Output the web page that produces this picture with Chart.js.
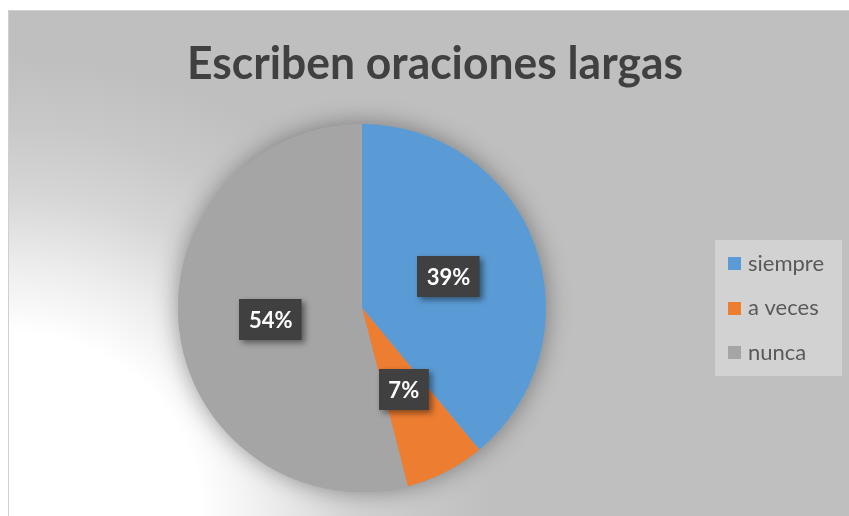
<!DOCTYPE html>
<html>
<head>
<meta charset="utf-8">
<script src="https://cdn.jsdelivr.net/npm/chart.js@4/dist/chart.umd.min.js"></script>
<style>
  html, body { margin: 0; padding: 0; background: #ffffff; }
  #wrap { width: 849px; height: 516px; position: relative; }
</style>
</head>
<body>
<div id="wrap"><canvas id="c" width="849" height="516"></canvas></div>
<script>
const titleText = "Escriben oraciones largas";
const categories = ["siempre", "a veces", "nunca"];
const percentages = [39, 7, 54];
const sliceColors = ["#5b9bd5", "#ed7d31", "#a5a5a5"];

const backgroundPlugin = {
  id: "bg",
  beforeDraw(chart) {
    const ctx = chart.ctx;
    const W = chart.width, H = chart.height;
    ctx.save();
    ctx.fillStyle = "#ffffff";
    ctx.fillRect(0, 0, W, H);
    ctx.save();
    ctx.beginPath();
    ctx.rect(8, 10, W - 8, H - 10);
    ctx.clip();
    ctx.translate(8, 516);
    ctx.scale(1.05, 1);
    const g = ctx.createRadialGradient(0, 0, 0, 0, 0, 460);
    g.addColorStop(0, "#ffffff");
    g.addColorStop(0.4, "#ffffff");
    g.addColorStop(0.55, "#ececec");
    g.addColorStop(0.7, "#d6d6d6");
    g.addColorStop(0.85, "#c8c8c8");
    g.addColorStop(1, "#bfbfbf");
    ctx.fillStyle = g;
    ctx.fillRect(-20, -600, 1000, 700);
    ctx.restore();
    ctx.strokeStyle = "#d0d0d0";
    ctx.lineWidth = 1;
    ctx.beginPath();
    ctx.moveTo(8.5, H);
    ctx.lineTo(8.5, 10.5);
    ctx.lineTo(W, 10.5);
    ctx.stroke();
    // title
    ctx.fillStyle = "#404040";
    ctx.font = "bold 45px Lato";
    ctx.textAlign = "center";
    ctx.textBaseline = "alphabetic";
    ctx.fillText(titleText, 435, 79, 496);
    ctx.restore();
  },
  beforeDatasetsDraw(chart) {
    const meta = chart.getDatasetMeta(0);
    const arc = meta.data[0];
    if (!arc) return;
    const ctx = chart.ctx;
    ctx.save();
    ctx.shadowColor = "rgba(0,0,0,0.38)";
    ctx.shadowBlur = 24;
    ctx.shadowOffsetX = 0;
    ctx.shadowOffsetY = 0;
    ctx.fillStyle = "#a5a5a5";
    ctx.beginPath();
    ctx.arc(arc.x, arc.y, arc.outerRadius, 0, Math.PI * 2);
    ctx.fill();
    ctx.restore();
  },
  afterDatasetsDraw(chart) {
    const ctx = chart.ctx;
    const meta = chart.getDatasetMeta(0);
    const values = chart.data.datasets[0].data;
    ctx.save();
    ctx.font = "bold 22px Lato";
    ctx.textAlign = "center";
    ctx.textBaseline = "alphabetic";
    meta.data.forEach((el, i) => {
      const p = el.tooltipPosition();
      const txt = values[i] + "%";
      const w = ctx.measureText(txt).width + 19;
      const h = 41;
      const x = Math.round(p.x - w / 2), y = Math.round(p.y - h / 2);
      ctx.save();
      ctx.shadowColor = "rgba(0,0,0,0.45)";
      ctx.shadowBlur = 6;
      ctx.shadowOffsetX = 3;
      ctx.shadowOffsetY = 3;
      ctx.fillStyle = "#404040";
      ctx.fillRect(x, y, w, h);
      ctx.restore();
      ctx.fillStyle = "#ffffff";
      ctx.fillText(txt, p.x, p.y + 8);
    });
    ctx.restore();
  },
  afterDraw(chart) {
    const ctx = chart.ctx;
    const labels = chart.data.labels;
    const colors = chart.data.datasets[0].backgroundColor;
    ctx.save();
    ctx.fillStyle = "rgba(255,255,255,0.3)";
    ctx.fillRect(715, 240, 127, 136);
    ctx.font = "22px Lato";
    ctx.textAlign = "left";
    ctx.textBaseline = "alphabetic";
    labels.forEach((lab, i) => {
      const cy = 263.5 + i * 44.6;
      ctx.fillStyle = colors[i];
      ctx.fillRect(728, Math.round(cy - 6.5), 13, 13);
      ctx.fillStyle = "#595959";
      ctx.fillText(lab, 748, cy + 7);
    });
    ctx.restore();
  }
};

new Chart(document.getElementById("c"), {
  type: "pie",
  data: {
    labels: categories,
    datasets: [{
      data: percentages,
      backgroundColor: sliceColors,
      borderWidth: 0,
      hoverOffset: 0,
      offset: 0
    }]
  },
  options: {
    responsive: false,
    animation: false,
    events: [],
    rotation: 0,
    layout: { padding: { left: 178, right: 303, top: 124, bottom: 24 } },
    plugins: {
      legend: { display: false },
      title: { display: false },
      tooltip: { enabled: false }
    }
  },
  plugins: [backgroundPlugin]
});
</script>
</body>
</html>
